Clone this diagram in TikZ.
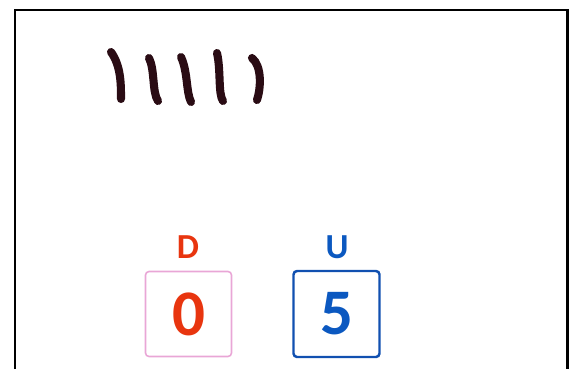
\documentclass[tikz,border=0pt]{standalone}
\usepackage{fontspec}
\setmainfont{Carlito}
\usetikzlibrary{positioning}
\definecolor{tallyink}{HTML}{2A0C14}
\definecolor{tensred}{HTML}{E8350F}
\definecolor{tenspink}{HTML}{E9A6D6}
\definecolor{unitsblue}{HTML}{0B58C0}
\definecolor{unitsframe}{HTML}{1150B0}
\tikzset{
  tallyline/.style={line width=4.6pt, line cap=round, tallyink},
  tensbox/.style={draw=tenspink, line width=0.9pt, rounded corners=2pt, minimum width=1.72cm, minimum height=1.70cm, inner sep=0pt, text=tensred, font=\fontsize{37}{37}\selectfont\bfseries},
  unitsbox/.style={draw=unitsframe, line width=1.4pt, rounded corners=2pt, minimum width=1.72cm, minimum height=1.72cm, inner sep=0pt, text=unitsblue, font=\fontsize{37}{37}\selectfont\bfseries},
  placelabel/.style={inner sep=0pt, font=\fontsize{20}{20}\selectfont\bfseries}
}
\begin{document}
\begin{tikzpicture}[x=0.02cm, y=-0.02cm]
  \useasboundingbox (0,0) rectangle (574,369);
  % card frame, open at the bottom
  \draw[line width=1.7pt] (15,369) -- (15,10) -- (567,10) -- (567,369);
  % five tally marks
  \draw[tallyline] (111,52) .. controls (121,66) and (121,84) .. (121,99);
  \draw[tallyline] (149,58) .. controls (155,70) and (152,92) .. (158,101);
  \draw[tallyline] (181,57) .. controls (188,72) and (186,92) .. (191,102);
  \draw[tallyline] (217,53) .. controls (221,70) and (218,94) .. (223,101);
  \draw[tallyline] (252,58) .. controls (262,66) and (261,88) .. (257,100);
  % place value boxes
  \node[tensbox] (tens) at (188.5,314) {0};
  \node[unitsbox] (units) at (336.5,314) {5};
  \node[placelabel, text=tensred] (tenslbl) at (188,247.5) {D};
  \node[placelabel, text=unitsblue] (unitslbl) at (337,247.5) {U};
\end{tikzpicture}
\end{document}
